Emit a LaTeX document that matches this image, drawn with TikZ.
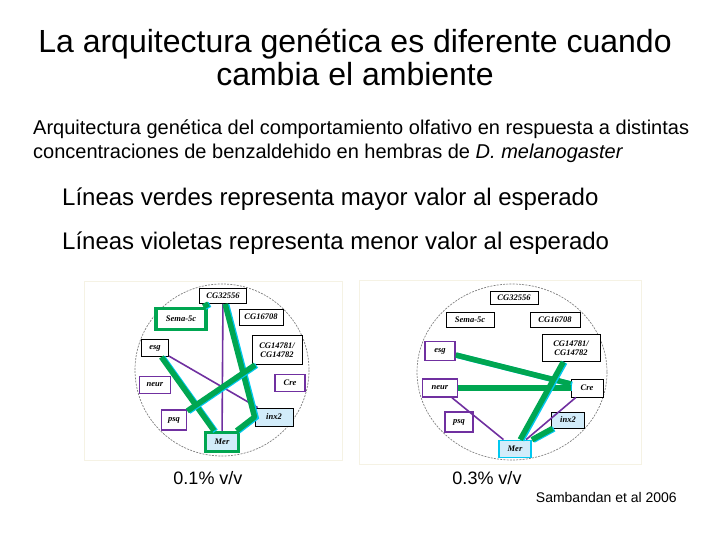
\documentclass[tikz,border=0pt]{standalone}
\usepackage{fontspec}
\setmainfont{Liberation Sans}
\newfontfamily\genfont{Liberation Serif}
\usepackage{tikz}
\usetikzlibrary{calc, positioning}
\definecolor{verde}{RGB}{0,166,81}
\definecolor{violeta}{RGB}{112,48,160}
\definecolor{celeste}{RGB}{0,200,240}
\definecolor{cfondo}{RGB}{210,236,250}
\definecolor{marco}{RGB}{245,242,228}

\tikzset{
  gen/.style={draw, line width=0.9pt, fill=white, inner sep=1pt, align=center,
    font=\genfont\bfseries\itshape\fontsize{8.5}{9}\selectfont},
  bajo/.style={gen, draw=violeta, line width=1.6pt},
  hit/.style={fill=cfondo},
  mayor/.style={draw=verde, line width=5.5pt,
    preaction={draw=celeste, line width=5.5pt, transform canvas={xshift=1.5pt, yshift=-0.5pt}}},
  menor/.style={draw=violeta, line width=1.6pt},
  circulo/.style={draw=gray, dashed, line width=0.7pt, dash pattern=on 2pt off 1.2pt}
}

\begin{document}
\begin{tikzpicture}[x=1pt, y=-1pt]
    \useasboundingbox (0,0) rectangle (720,540);

    % --- Titles ---
    \node[anchor=base, font=\fontsize{32}{36}\selectfont] (tit1) at (355,53) {La arquitectura genética es diferente cuando};
    \node[anchor=base, font=\fontsize{32}{36}\selectfont] (tit2) at (355,86) {cambia el ambiente};
    \node[anchor=base west, inner sep=0pt, font=\fontsize{20}{22}\selectfont] (sub1) at (33,135) {Arquitectura genética del comportamiento olfativo en respuesta a distintas};
    \node[anchor=base west, inner sep=0pt, font=\fontsize{20}{22}\selectfont] (sub2) at (33,159) {concentraciones de benzaldehido en hembras de \textit{D. melanogaster}};
    \node[anchor=base west, inner sep=0pt, font=\fontsize{24}{26}\selectfont] (verdes) at (62,206) {Líneas verdes representa mayor valor al esperado};
    \node[anchor=base west, inner sep=0pt, font=\fontsize{24}{26}\selectfont] (violetas) at (62,249) {Líneas violetas representa menor valor al esperado};

    % --- Panel 0.1% ---
    \draw[marco, line width=0.8pt] (84,281) rectangle (342,460);
    \draw[circulo] (222,370) ellipse [x radius=87, y radius=86];

    \node[gen, minimum width=47, minimum height=15] (acgA) at (223,296) {CG32556};
    \node[gen, draw=verde, line width=3.5pt, minimum width=50, minimum height=21] (asema) at (181,319) {Sema-5c};
    \node[gen, minimum width=44, minimum height=16] (acgC) at (261,317) {CG16708};
    \node[gen, minimum width=27, minimum height=17] (aesg) at (155,348) {esg};
    \node[gen, minimum width=50, minimum height=29] (acgB) at (277,350) {CG14781/\\CG14782};
    \node[bajo, minimum width=31, minimum height=17] (aneur) at (155,385) {neur};
    \node[bajo, minimum width=30, minimum height=17] (acre) at (290,383) {Cre};
    \node[bajo, minimum width=25, minimum height=20] (apsq) at (174,420) {psq};
    \node[gen, hit, minimum width=38, minimum height=18] (ainx) at (274,417) {inx2};
    \node[gen, hit, draw=verde, line width=3.5pt, minimum width=33, minimum height=19] (amer) at (222,442) {Mer};

    \draw[menor] (acgA) -- (amer);
    \draw[menor] (aesg) -- (ainx);
    \draw[mayor] (acgA) -- (asema);
    \draw[mayor, line join=round] (acgA) -- (ainx.west) -- (amer);
    \draw[mayor] (aesg) -- (amer);
    \draw[mayor] (acgB) -- (apsq);

    \node[anchor=base, font=\fontsize{18}{20}\selectfont] (conc1) at (208,484) {0.1\% v/v};

    % --- Panel 0.3% ---
    \draw[marco, line width=0.8pt] (359,280) rectangle (641,464);
    \draw[circulo] (512,372) ellipse [x radius=95, y radius=88];

    \node[gen, minimum width=48, minimum height=13] (bcgA) at (514,298) {CG32556};
    \node[gen, minimum width=48, minimum height=15] (bsema) at (470,320) {Sema-5c};
    \node[gen, minimum width=50, minimum height=15] (bcgC) at (555,320) {CG16708};
    \node[bajo, minimum width=30, minimum height=19] (besg) at (440,351) {esg};
    \node[gen, minimum width=58, minimum height=27] (bcgB) at (571,348) {CG14781/\\CG14782};
    \node[bajo, minimum width=35, minimum height=18] (bneur) at (440,388) {neur};
    \node[gen, minimum width=32, minimum height=18] (bcre) at (587,388) {Cre};
    \node[bajo, minimum width=28, minimum height=20] (bpsq) at (459,422) {psq};
    \node[gen, hit, minimum width=33, minimum height=16] (binx) at (568,420) {inx2};
    \node[gen, hit, draw=celeste, line width=1.8pt, minimum width=32, minimum height=17] (bmer) at (515,449) {Mer};

    \draw[menor] (bneur) -- (bmer);
    \draw[menor] (bcre) -- (bmer);
    \draw[mayor] (besg) -- (bcre);
    \draw[mayor] (bneur) -- (bcre);
    \draw[mayor] (bcgB) -- (bmer);
    \draw[mayor] (binx) -- (bmer);

    \node[anchor=base, font=\fontsize{18}{20}\selectfont] (conc3) at (487,484) {0.3\% v/v};

    % --- Reference ---
    \node[anchor=base east, inner sep=0pt, font=\fontsize{14}{16}\selectfont] (ref) at (677,502) {Sambandan et al 2006};

\end{tikzpicture}
\end{document}
